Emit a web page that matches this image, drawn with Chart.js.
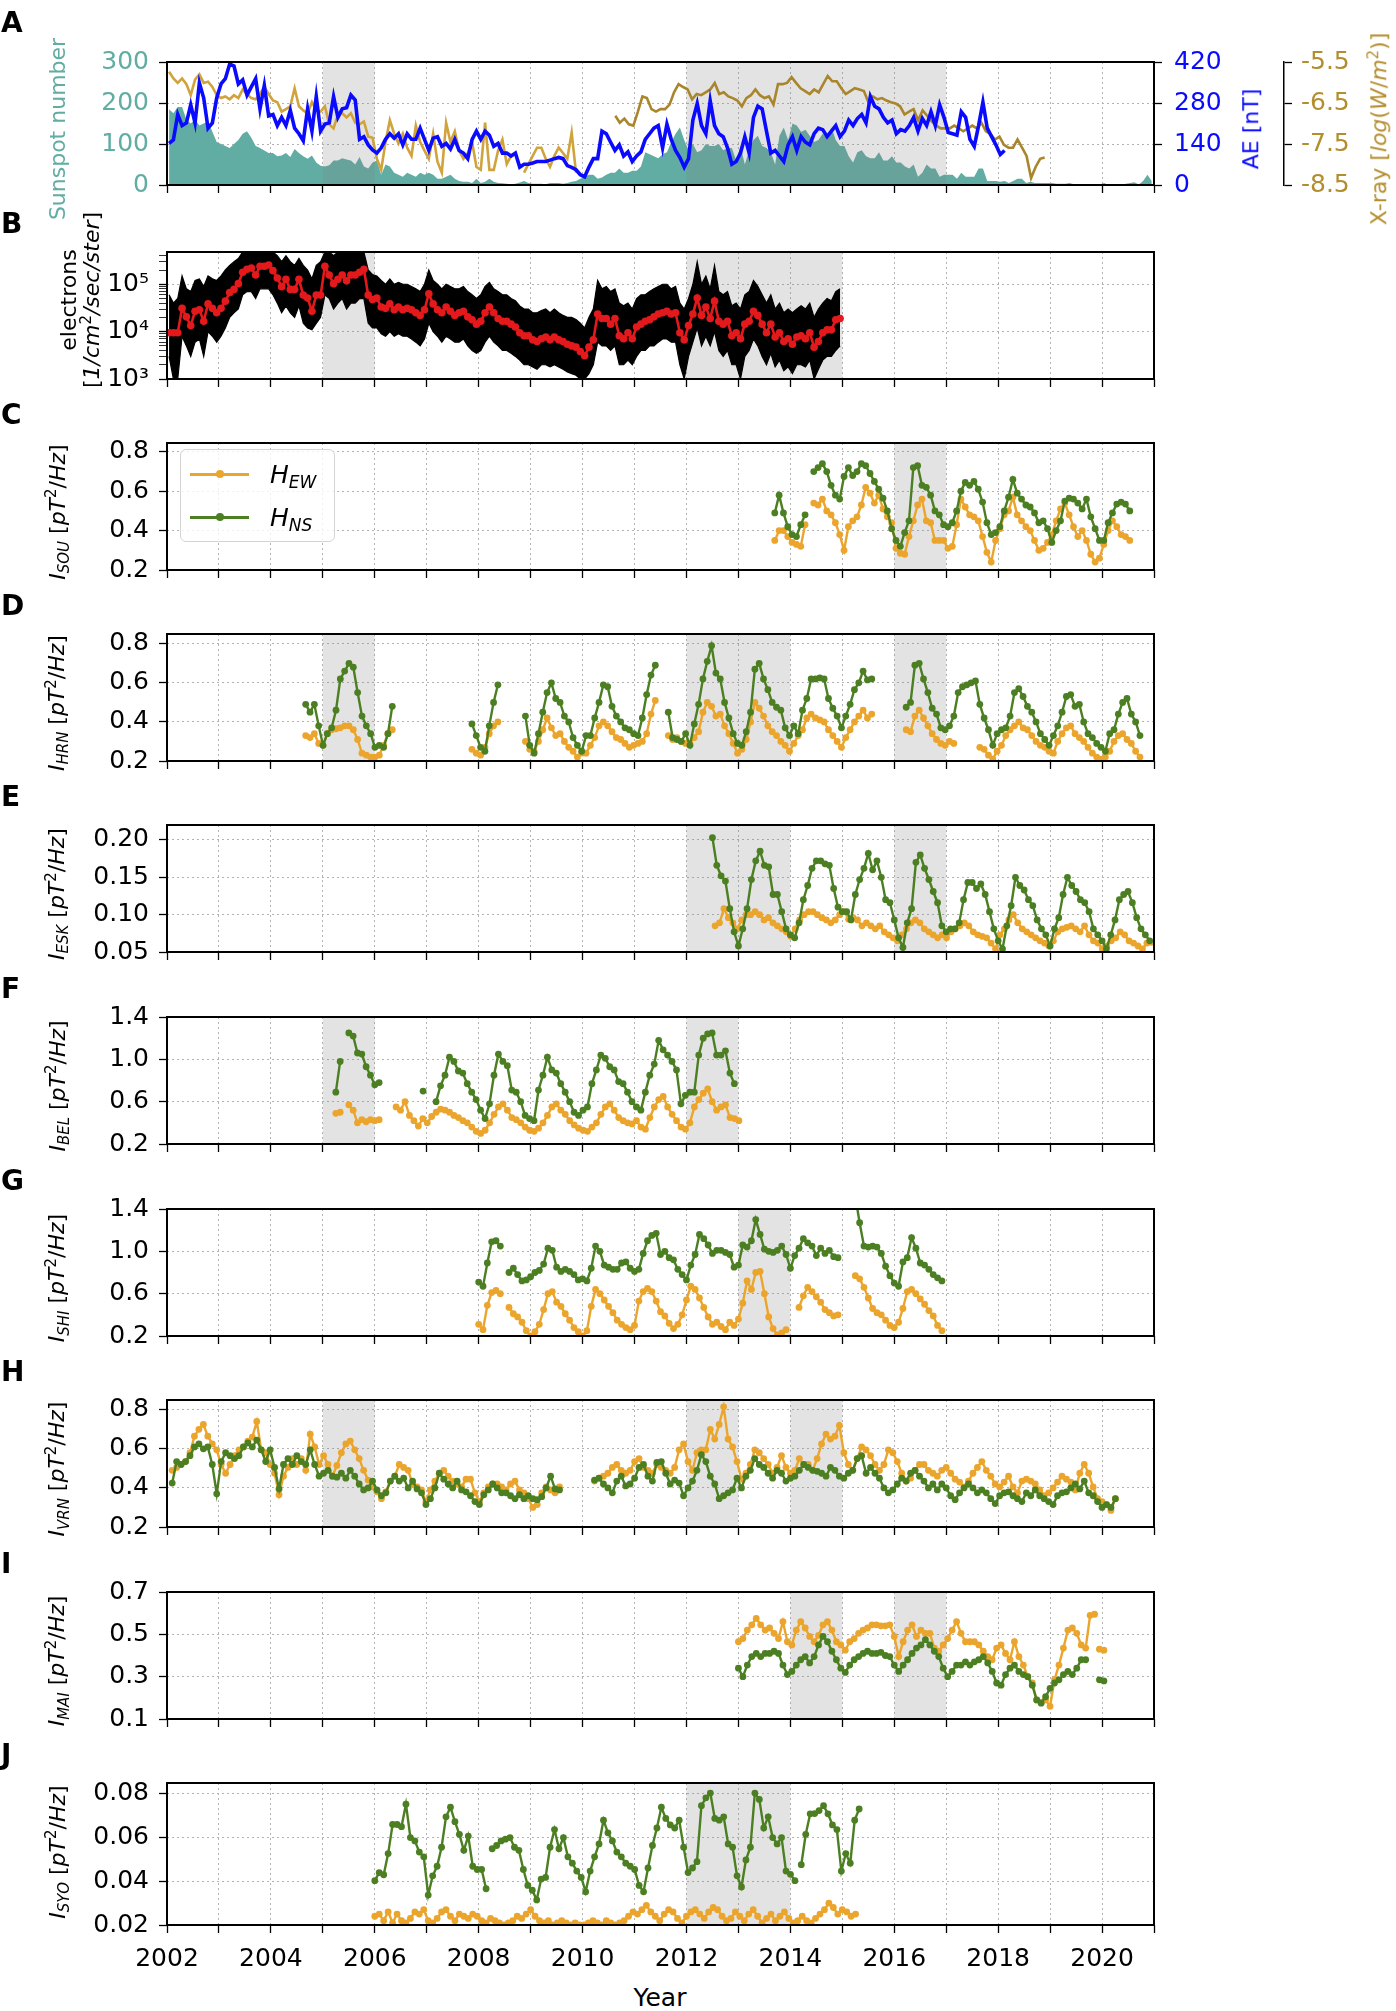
<!DOCTYPE html>
<html>
<head>
<meta charset="utf-8">
<title>Solar activity and ELF intensities</title>
<script src="https://cdn.jsdelivr.net/npm/chart.js@4.4.1/dist/chart.umd.min.js"></script>
<style>
  body { margin: 0; background: #fff; }
  #fig { position: relative; width: 1396px; height: 2011px; font-family: "DejaVu Sans", sans-serif; overflow: hidden; }
  #fig canvas { position: absolute; left: 0; }
  .t { position: absolute; white-space: nowrap; line-height: 1; text-align: center; font-size: 22px; }
  .r { transform: rotate(-90deg); }
  .ltr { position: absolute; left: 1px; font-weight: bold; font-size: 28px; line-height: 1; }
  sub, sup { font-size: 0.68em; line-height: 0; }
  sub { vertical-align: -0.3em; }
  sup { vertical-align: 0.55em; }
</style>
</head>
<body>
<div id="fig"></div>
<script>
// ---------- data ----------
const MONTH = 1 / 12;
const STEP = 0.0857;
const yearTicks = [2002,2003,2004,2005,2006,2007,2008,2009,2010,2011,2012,2013,2014,2015,2016,2017,2018,2019,2020,2021];

// A: sunspot number, monthly from Jan 2002
const sunspot = [
  185,175,190,190,160,150,160,145,150,155,130,105,
  100,95,90,100,110,125,131,115,95,90,84,78,
  78,70,72,78,68,88,78,70,64,72,55,47,
  45,48,60,60,65,62,60,50,68,45,40,55,
  60,25,50,45,30,25,20,30,25,20,30,25,
  30,25,15,15,20,25,15,10,8,8,5,15,
  5,8,15,8,5,4,3,2,3,6,10,5,
  3,3,3,2,5,5,5,3,5,8,10,15,
  20,25,25,15,18,25,30,30,40,30,30,35,
  35,45,80,75,70,65,75,80,105,125,140,110,
  85,100,80,85,100,95,95,100,85,90,90,60,
  95,50,85,110,120,95,90,80,50,120,140,110,
  150,145,130,135,120,105,110,125,115,140,110,95,
  95,70,55,80,85,70,65,65,80,60,60,70,
  55,55,45,40,50,20,30,50,40,40,20,25,
  25,25,15,30,20,20,20,40,40,10,10,10,
  8,10,5,10,15,15,5,8,5,5,5,5,
  5,3,3,3,5,2,1,1,1,1,1,1,
  5,0,1,2,0,3,5,7,1,10,25,10
];
// A: AE index [nT], monthly from Jan 2002
const aeIndex = [
  142,154,241,203,212,274,212,349,297,194,212,297,
  345,363,413,406,345,359,307,335,363,260,340,236,
  241,203,231,203,255,194,175,151,260,184,302,184,
  208,212,302,231,260,264,307,290,156,165,137,120,
  109,127,156,175,160,175,137,175,156,156,194,156,
  118,160,165,132,142,123,156,118,109,90,156,184,
  156,184,170,132,142,109,109,99,109,61,71,71,
  75,80,80,80,85,90,94,90,66,60,52,35,
  28,61,90,90,184,175,146,118,137,99,113,80,
  99,113,156,175,194,203,127,208,156,118,94,61,
  90,222,278,203,175,288,203,175,165,127,71,80,
  109,165,109,231,269,260,184,109,118,99,80,137,
  165,118,165,146,137,175,194,189,165,184,203,165,
  184,222,203,227,241,212,302,269,260,231,212,222,
  175,189,184,203,231,184,227,203,250,203,274,231,
  179,175,170,250,231,156,132,203,283,194,165,137,
  104,118
];
// A: X-ray flux log(W/m2), first instrument, monthly from Jan 2002
const xrayEarly = [
  -5.74,-5.90,-6.01,-5.90,-6.04,-6.31,-5.93,-5.80,-6.01,-5.98,-6.11,-6.31,
  -6.38,-6.34,-6.41,-6.31,-6.38,-6.17,-6.28,-6.38,-6.41,-6.28,-6.11,-6.28,
  -6.44,-6.48,-6.71,-6.65,-6.58,-6.14,-6.58,-6.68,-6.75,-6.48,-6.68,-6.71,
  -6.58,-7.02,-7.12,-6.78,-6.75,-6.85,-6.75,-6.98,-7.02,-6.95,-7.32,-7.35,
  -7.86,-8.13,-7.45,-6.92,-7.25,-7.49,-7.25,-7.59,-7.79,-7.05,-7.45,-7.66,
  -7.86,-7.25,-7.93,-8.20,-6.98,-7.45,-7.19,-7.66,-7.86,-7.72,-7.45,-8.06,
  -8.13,-6.98,-8.13,-8.13,-7.66,-7.39,-7.99,-7.79,null,null,-8.20,-7.99,
  -7.79,-7.59,-7.59,-7.86,-8.06,-7.79,-7.59,-7.72,-7.86,-7.22,-8.20
];
// A: X-ray flux, second instrument, from Aug 2010
const xrayLate = [
  -6.81,-6.98,-6.88,-7.02,-7.05,-6.71,-6.34,-6.38,-6.65,-6.71,-6.65,-6.65,-6.54,-6.24,-6.04,-6.11,-6.17,
  -6.41,-6.28,-6.31,-6.24,-6.17,-6.01,-6.28,-6.24,-6.34,-6.38,-6.44,-6.58,-6.38,-6.31,-6.17,-6.31,
  -6.38,-6.34,-6.54,-6.04,-6.04,-6.01,-5.87,-6.01,-6.14,-6.21,-6.28,-6.17,-6.24,-6.04,-5.84,-5.97,
  -5.97,-6.14,-6.28,-6.21,-6.14,-6.17,-6.21,-6.48,-6.34,-6.41,-6.38,-6.44,-6.48,-6.51,-6.58,-6.78,
  -6.71,-6.65,-6.92,-6.68,-6.81,-6.95,-7.05,-7.12,-7.12,-7.12,-7.05,-7.12,-7.19,-7.12,-7.05,-7.12,
  -6.98,-7.19,-7.25,-7.39,-7.32,-7.52,-7.59,-7.59,-7.39,-7.59,-7.79,-8.33,-8.06,-7.86,-7.83
];
const xrayLateStart = 2010.63;
const xrayLateStep = 0.087;

// B: >2 MeV electrons, monthly means from Jan 2002
const elecMean = [
  9.5e3,9.5e3,9.5e3,3.1e4,2.05e4,1.34e4,2.7e4,2.9e4,1.66e4,3.85e4,3.1e4,2.5e4,
  3.1e4,4.4e4,6.7e4,7.8e4,1.03e5,1.8e5,2.07e5,2.2e5,1.57e5,2.4e5,2.4e5,2.56e5,
  1.94e5,1.36e5,8.9e4,1.27e5,7.8e4,7.8e4,1.27e5,5.9e4,5.1e4,2.7e4,5.9e4,5.9e4,
  2.4e5,1.57e5,1.03e5,1.27e5,1.57e5,1.18e5,1.57e5,1.57e5,1.8e5,2.07e5,5.9e4,4.75e4,
  5.1e4,3.3e4,3.1e4,3.85e4,2.9e4,3.3e4,2.9e4,3.1e4,2.9e4,2.5e4,2.2e4,2.9e4,
  6.3e4,3.85e4,2.9e4,2.5e4,3.3e4,2.7e4,2.2e4,2.5e4,2.7e4,2.05e4,1.78e4,1.44e4,
  1.66e4,2.5e4,3.3e4,2.5e4,1.9e4,1.66e4,1.66e4,1.44e4,1.25e4,9.5e3,8.2e3,8.2e3,
  6.7e3,6.2e3,7.1e3,7.7e3,6.7e3,7.7e3,6.7e3,6.2e3,5.4e3,5.0e3,4.7e3,3.8e3,
  3.1e3,4.7e3,6.7e3,2.35e4,1.9e4,1.9e4,1.44e4,1.9e4,8.2e3,7.1e3,9.5e3,7.1e3,
  1.25e4,1.44e4,1.66e4,1.78e4,2.05e4,2.35e4,2.5e4,2.7e4,2.35e4,2.5e4,9.5e3,6.7e3,
  1.34e4,2.35e4,5.1e4,2.2e4,3.3e4,1.9e4,4.4e4,1.66e4,1.44e4,1.66e4,8.2e3,9.5e3,
  7.1e3,1.44e4,1.66e4,2.7e4,2.2e4,1.44e4,9.5e3,1.44e4,7.7e3,9.5e3,6.2e3,7.1e3,
  5.4e3,7.7e3,8.2e3,7.1e3,9.5e3,4.7e3,6.2e3,9.5e3,1.09e4,1.09e4,1.78e4,1.9e4
];
// B: upper and lower edge of the daily flux band, per month
const elecHigh = [
  6e4,4e4,5e4,1.5e5,8e4,7e4,1.2e5,1.3e5,9e4,1.5e5,1.3e5,1.2e5,
  1.5e5,2e5,2.5e5,3e5,3.5e5,4.8e5,4.8e5,4.8e5,4.5e5,4.8e5,4.8e5,4.8e5,
  4.8e5,4e5,3e5,4e5,3e5,2.5e5,3.5e5,2.5e5,2e5,1.3e5,2.5e5,3e5,
  4.8e5,4.8e5,4e5,4.8e5,4.8e5,4.8e5,4.8e5,4.8e5,4.8e5,4.8e5,2e5,1.6e5,
  1.5e5,1.2e5,1e5,1.3e5,1e5,1.1e5,1e5,1e5,9e4,8e4,7e4,1e5,
  2e5,1.2e5,1e5,8e4,1e5,9e4,8e4,8e4,9e4,7e4,6e4,5e4,
  6e4,9e4,1.1e5,8e4,7e4,6e4,6e4,5e4,4.5e4,3.5e4,3e4,3e4,
  2.5e4,2.5e4,2.8e4,3e4,2.5e4,3e4,2.5e4,2.2e4,2e4,2e4,1.8e4,1.5e4,
  1.2e4,2e4,3e4,1.2e5,8e4,9e4,7e4,8e4,4e4,3.5e4,4e4,3e4,
  5e4,6e4,6e4,7e4,8e4,9e4,1e5,1e5,8e4,9e4,4e4,3e4,
  5e4,1e5,3e5,1e5,1.5e5,8e4,2.5e5,7e4,6e4,7e4,3.5e4,4e4,
  3e4,6e4,7e4,1.2e5,9e4,6e4,4e4,6e4,3e4,4e4,2.5e4,3e4,
  2.5e4,3e4,3.5e4,3e4,4e4,2e4,3e4,4e4,5e4,4.5e4,7e4,8e4
];
const elecLow = [
  3e3,1e3,1e3,8e3,5e3,3e3,6e3,7e3,3e3,1e4,8e3,6e3,
  8e3,1.2e4,2e4,2.5e4,3e4,6e4,7e4,7e4,5e4,8e4,8e4,8e4,
  6e4,4e4,2.5e4,3.5e4,2.5e4,2e4,3.5e4,1.5e4,1.2e4,1.1e4,1.5e4,2e4,
  6e4,5e4,3e4,4e4,5e4,3e4,4e4,4e4,5e4,5e4,1.5e4,1.2e4,
  1.2e4,9e3,8e3,1e4,8e3,9e3,8e3,8e3,7e3,6e3,5e3,7e3,
  1.5e4,1e4,8e3,6e3,8e3,7e3,6e3,6e3,7e3,5e3,4e3,3.5e3,
  4e3,6e3,8e3,6e3,5e3,4e3,4e3,3.5e3,3e3,2.5e3,2e3,2e3,
  1.8e3,1.6e3,2e3,2e3,1.8e3,2e3,1.8e3,1.6e3,1.4e3,1.3e3,1.2e3,1e3,
  1e3,1.3e3,2e3,6e3,5e3,5e3,4e3,5e3,2e3,2e3,2.5e3,2e3,
  3e3,4e3,4e3,5e3,5e3,6e3,7e3,7e3,6e3,6e3,2e3,1e3,
  3e3,6e3,1.2e4,5e3,8e3,5e3,1e4,4e3,3e3,4e3,2e3,2e3,
  1e3,3e3,4e3,7e3,5e3,3e3,2e3,3.5e3,1.8e3,2.5e3,1.5e3,1.8e3,
  1.3e3,2e3,2e3,1.8e3,2.5e3,1e3,1.6e3,2.5e3,3e3,3e3,4e3,5e3
];
const elecTicks = [1e3,2e3,3e3,4e3,5e3,6e3,7e3,8e3,9e3,1e4,2e4,3e4,4e4,5e4,6e4,7e4,8e4,9e4,1e5,2e5,3e5,4e5];

// C: SOU, monthly from Sep 2013
const souNS = [0.49,0.58,0.49,0.42,0.38,0.37,0.43,0.48,null,
  0.70,0.72,0.74,0.70,0.63,0.58,0.56,0.675,0.72,0.68,0.70,0.74,0.73,0.69,0.65,0.61,0.565,0.50,0.41,0.35,
  0.32,0.39,0.45,0.72,0.73,0.63,0.62,0.58,0.50,0.48,0.43,0.42,0.44,0.50,0.60,0.645,0.63,0.65,0.61,0.545,
  0.44,0.38,0.39,0.42,0.50,0.57,0.66,0.59,0.56,0.53,0.52,0.49,0.44,0.45,0.41,0.34,0.40,0.45,0.55,0.565,
  0.56,0.54,0.51,0.56,0.47,0.41,0.35,0.35,0.44,0.49,0.535,0.545,0.535,0.50];
const souEW = [0.35,0.40,0.40,0.37,0.34,0.33,0.32,0.43,null,
  0.54,0.53,0.56,0.50,0.48,0.44,0.38,0.30,0.42,0.45,0.47,0.53,0.62,0.59,0.54,0.58,0.51,0.47,0.44,0.31,
  0.285,0.28,0.37,0.45,0.53,0.56,0.45,0.44,0.35,0.35,0.35,0.31,0.32,0.43,0.56,0.52,0.48,0.47,0.45,0.37,
  0.29,0.24,0.35,0.41,0.48,0.50,0.57,0.48,0.45,0.42,0.40,0.35,0.30,0.31,0.34,0.38,0.45,0.51,0.54,0.48,
  0.42,0.37,0.40,0.35,0.28,0.24,0.26,0.33,0.40,0.45,0.42,0.38,0.37,0.35];
const souStart = 2013.70;

// D: HRN, monthly segments
const hrnStarts = [2004.67, 2007.87, 2008.90, 2011.65, 2016.23];
const hrnNS1 = [0.49,0.45,0.49,0.38,0.28,0.34,0.37,0.46,0.62,0.66,0.70,0.68,0.55,0.43,0.38,0.34,0.27,0.28,0.27,0.34,0.48];
const hrnNS2 = [0.39,0.33,0.27,0.25,0.38,0.50,0.59];
const hrnNS3 = [0.43,0.28,0.24,0.34,0.45,0.55,0.60,0.52,0.50,0.43,0.40,0.32,0.28,0.25,0.33,0.33,0.42,0.50,0.59,0.58,0.48,0.43,0.40,0.37,0.36,0.34,0.33,0.42,0.54,0.64,0.69];
const hrnNS4 = [0.45,0.32,0.31,0.30,0.34,0.28,0.39,0.49,0.62,0.71,0.79,0.65,0.62,0.50,0.42,0.34,0.29,0.28,0.35,0.45,0.67,0.70,0.62,0.565,0.50,0.475,0.46,0.37,0.33,0.38,0.34,0.46,0.52,0.62,0.62,0.625,0.62,0.52,0.47,0.43,0.37,0.43,0.49,0.565,0.60,0.66,0.615,0.62];
const hrnNS5 = [0.475,0.50,0.69,0.70,0.62,0.55,0.47,0.44,0.37,0.36,0.38,0.43,0.55,0.58,0.59,0.60,0.61,0.49,0.42,0.36,0.28,0.34,0.36,0.37,0.43,0.55,0.57,0.53,0.48,0.45,0.40,0.34,0.31,0.28,0.33,0.38,0.45,0.53,0.54,0.48,0.49,0.40,0.34,0.32,0.29,0.27,0.25,0.34,0.36,0.44,0.50,0.52,0.44,0.40,0.33];
const hrnEW1 = [0.33,0.32,0.34,0.29,0.28,0.34,0.36,0.365,0.37,0.38,0.38,0.36,0.31,0.24,0.23,0.22,0.22,0.23,0.28,0.34,0.36];
const hrnEW2 = [0.26,0.24,0.23,0.27,0.34,0.38,0.40];
const hrnEW3 = [0.30,0.26,0.25,0.30,0.36,0.42,0.37,0.33,0.34,0.30,0.27,0.25,0.22,0.24,0.24,0.28,0.32,0.38,0.40,0.38,0.35,0.32,0.31,0.29,0.27,0.28,0.29,0.30,0.34,0.44,0.51];
const hrnEW4 = [0.33,0.31,0.32,0.30,0.29,0.29,0.32,0.35,0.45,0.50,0.48,0.43,0.44,0.38,0.34,0.29,0.24,0.26,0.31,0.40,0.50,0.47,0.43,0.38,0.35,0.33,0.30,0.28,0.25,0.29,0.33,0.36,0.42,0.44,0.42,0.41,0.40,0.36,0.33,0.30,0.27,0.32,0.36,0.40,0.43,0.46,0.42,0.44];
const hrnEW5 = [0.36,0.35,0.43,0.46,0.42,0.38,0.34,0.31,0.29,0.28,0.30,0.29,null,null,null,null,null,0.27,0.26,0.23,0.21,0.25,0.28,0.33,0.36,0.38,0.40,0.37,0.36,0.33,0.30,0.28,0.27,0.25,0.24,0.30,0.34,0.37,0.38,0.34,0.32,0.30,0.27,0.24,0.22,0.21,0.22,0.25,0.30,0.33,0.34,0.31,0.29,0.25,0.22];

// E: ESK
const eskNS = [0.203,0.166,0.152,0.145,0.108,0.077,0.058,0.081,0.108,0.147,0.172,0.185,0.166,0.164,0.127,0.127,0.104,0.081,0.073,0.069,
  0.089,0.12,0.139,0.162,0.172,0.172,0.168,0.166,0.135,0.11,0.104,0.104,0.093,0.127,0.147,0.162,0.182,0.16,0.172,0.15,
  0.12,0.116,0.093,0.069,0.056,0.089,0.108,0.17,0.18,0.162,0.147,0.131,0.116,0.085,0.077,0.081,0.081,0.089,0.12,0.143,
  0.143,0.135,0.141,0.127,0.104,0.081,0.065,0.054,0.085,0.112,0.15,0.139,0.133,0.12,0.112,0.093,0.081,0.073,0.058,0.081,
  0.096,0.127,0.15,0.139,0.131,0.12,0.116,0.104,0.081,0.073,0.065,0.054,0.073,0.093,0.12,0.127,0.131,0.116,0.096,0.081,0.073,0.065];
const eskEW = [0.085,0.089,0.108,0.096,0.089,0.081,0.093,0.10,0.10,0.104,0.10,0.093,0.096,0.089,0.085,0.081,0.077,0.071,0.081,0.093,
  0.10,0.104,0.104,0.10,0.096,0.093,0.089,0.093,0.10,0.104,0.094,0.096,0.093,0.085,0.089,0.085,0.081,0.085,0.077,0.073,
  0.069,0.065,0.073,0.081,0.089,0.093,0.089,0.081,0.077,0.073,0.069,0.073,0.069,0.077,0.081,0.085,0.089,0.085,0.077,0.073,
  0.071,0.069,0.062,0.054,0.073,0.081,0.093,0.10,0.089,0.081,0.077,0.073,0.069,0.065,0.062,0.058,0.065,0.077,0.081,0.083,
  0.085,0.081,0.077,0.085,0.073,0.065,0.062,0.054,0.058,0.065,0.069,0.077,0.073,0.065,0.062,0.058,0.054,0.062,0.063];
const eskStartNS = 2012.50, eskStartEW = 2012.55;

// F: BEL
const belNS1 = [0.69,0.98,null,1.25,1.22,1.06,1.05,0.93,0.85,0.76,0.78];       // monthly from 2005.25
const belNS2 = [0.70];                                                        // 2006.93
const belNS3 = [0.60,0.75,0.85,1.02,0.98,0.89,0.87,0.77,0.69,0.62,0.52,0.44,0.58,0.85,1.05,0.98,0.94,0.71,0.69,0.60,
  0.47,0.44,0.42,0.71,0.85,1.02,0.90,0.87,0.77,0.69,0.60,0.50,0.47,0.52,0.55,0.77,0.90,1.04,1.01,0.93,
  0.90,0.79,0.77,0.69,0.60,0.55,0.52,0.69,0.85,0.955,1.18,1.09,1.04,0.98,0.90,0.58,0.66,0.69,0.69,1.04,
  1.20,1.24,1.25,1.04,1.04,1.08,0.87,0.77];                                   // rotations from 2007.18
const belEW1 = [0.49,0.50,null,0.57,0.52,0.40,0.43,0.41,0.43,0.42,0.43];      // monthly from 2005.25
const belEW2 = [0.55,0.52,0.60,0.47,0.42,0.37,0.44,0.40,0.46,0.50,0.53,0.52,0.50,0.47,0.45,0.42,0.40,0.36,0.32,0.30,
  0.33,0.40,0.48,0.55,0.58,0.52,0.45,0.43,0.40,0.36,0.33,0.32,0.35,0.40,0.47,0.55,0.58,0.52,0.48,0.42,
  0.38,0.35,0.33,0.32,0.36,0.40,0.48,0.55,0.58,0.52,0.45,0.42,0.40,0.39,0.42,0.36,0.34,0.45,0.55,0.62,
  0.65,0.55,0.48,0.42,0.36,0.34,0.40,0.55,0.62,0.68,0.72,0.60,0.52,0.55,0.57,0.45,0.44,0.42]; // rotations from 2006.41

// G: SHI, monthly
const shiNS1 = [0.71,0.67,0.89,1.09,1.10,1.05,null,0.80,0.84,0.78,0.72,0.73,0.76,0.80,0.82,0.88,1.03,1.01,0.85,0.81,
  0.83,0.81,0.78,0.73,0.74,0.72,0.84,1.05,1.00,0.87,0.85,0.83,0.83,0.89,0.90,0.84,0.81,0.83,0.98,1.10,
  1.15,1.17,0.97,1.00,0.94,0.92,0.83,0.78,0.73,0.87,0.97,1.16,1.12,1.06,0.98,1.01,1.01,0.99,0.97,0.85,
  0.87,1.06,1.04,1.10,1.30,1.16,1.02,1.00,0.99,1.01,1.05,0.97,0.84,0.96,1.03,1.12,1.08,1.05,0.96,1.03,
  0.98,1.01,0.95,0.94];
const shiNS2 = [1.52,1.27,1.05,1.04,1.05,1.04,0.98,0.86,0.77,0.70,0.67,0.90,0.94,1.13,1.03,0.89,0.87,0.83,0.78,0.75,0.72];
const shiEW1 = [0.31,0.26,0.49,0.61,0.63,0.60,null,0.47,0.41,0.38,0.33,0.25,0.20,0.24,0.31,0.45,0.60,0.62,0.52,0.48,
  0.41,0.35,0.28,0.24,0.20,0.25,0.48,0.64,0.60,0.54,0.48,0.42,0.35,0.31,0.28,0.26,0.30,0.53,0.62,0.65,
  0.62,0.53,0.43,0.39,0.32,0.27,0.31,0.40,0.54,0.67,0.64,0.56,0.47,0.38,0.31,0.33,0.29,0.26,0.33,0.30,
  0.36,0.51,0.72,0.64,0.80,0.81,0.60,0.38,0.27,0.21,0.23,0.26,null,null,0.47,0.58,0.66,0.62,0.57,0.52,
  0.45,0.42,0.39,0.40];
const shiEW2 = [0.77,0.74,0.66,0.56,0.46,0.42,0.40,0.35,0.30,0.28,0.33,0.46,0.62,0.64,0.60,0.55,0.50,0.44,0.39,0.30,0.25];
const shiStarts = [2008.0, 2015.25];

// H: VRN, rotation series
const vrnNS1 = [0.425,0.535,0.52,0.535,0.565,0.61,0.625,0.60,0.61,0.52,0.37,0.535,0.58,0.565,0.55,0.565,0.61,0.63,0.61,0.645,
  0.595,0.535,0.595,0.505,0.395,0.52,0.55,0.52,0.565,0.535,0.52,0.595,0.52,0.46,0.475,0.49,0.46,0.455,0.475,0.45,
  0.49,0.46,0.42,0.39,0.40,0.435,0.39,0.36,0.375,0.435,0.46,0.435,0.45,0.40,0.435,0.395,0.375,0.315,0.345,0.40,
  0.475,0.445,0.42,0.40,0.435,0.39,0.38,0.36,0.33,0.315,0.365,0.39,0.42,0.40,0.375,0.375,0.36,0.345,0.365,0.345,
  0.36,0.345,0.34,0.355,0.40,0.46,0.395,0.39];
const vrnEW1 = [0.49,0.505,0.52,0.535,0.58,0.665,0.70,0.725,0.665,0.625,0.595,0.52,0.475,0.52,0.565,0.595,0.61,0.64,0.66,0.74,
  0.595,0.58,0.52,0.475,0.365,0.46,0.505,0.55,0.52,0.55,0.49,0.675,0.61,0.52,0.565,0.52,0.46,0.515,0.58,0.625,
  0.64,0.595,0.55,0.49,0.44,0.405,0.38,0.345,0.38,0.435,0.46,0.52,0.505,0.49,0.42,0.405,0.39,0.33,0.39,0.435,
  0.475,0.49,0.46,0.435,0.42,0.405,0.445,0.445,0.375,0.33,0.375,0.405,0.42,0.42,0.405,0.39,0.42,0.435,0.39,0.375,
  0.345,0.30,0.315,0.375,0.405,0.39,0.375,0.405];
const vrnNS2 = [0.44,0.45,0.42,0.40,0.375,0.435,0.46,0.41,0.42,0.45,0.505,0.52,0.46,0.435,0.53,0.535,0.475,0.42,0.44,0.425,
  0.36,0.40,0.435,0.49,0.57,0.535,0.46,0.42,0.345,0.36,0.375,0.39,0.45,0.40,0.46,0.49,0.55,0.52,0.505,0.475,
  0.45,0.49,0.475,0.435,0.45,0.46,0.49,0.52,0.505,0.49,0.485,0.475,0.46,0.505,0.49,0.46,0.45,0.475,0.49,0.55,
  0.565,0.475,0.505,0.475,0.45,0.40,0.375,0.39,0.42,0.45,0.435,0.475,0.49,0.46,0.435,0.40,0.42,0.39,0.42,0.40,
  0.36,0.34,0.375,0.40,0.42,0.40,0.375,0.39,0.375,0.345,0.32,0.36,0.375,0.38,0.36,0.345,0.33,0.375,0.36,0.39,
  0.36,0.345,0.33,0.315,0.36,0.375,0.38,0.40,0.42,0.395,0.435,0.375,0.36,0.33,0.30,0.315,0.30,0.345];
const vrnEW2 = [0.435,0.45,0.46,0.475,0.505,0.52,0.49,0.475,0.49,0.535,0.55,0.505,0.49,0.475,0.52,0.505,0.49,0.475,0.505,0.595,
  0.625,0.535,0.49,0.58,0.595,0.595,0.70,0.65,0.725,0.815,0.65,0.61,0.535,0.445,0.475,0.52,0.595,0.58,0.55,0.52,
  0.475,0.505,0.565,0.505,0.475,0.49,0.55,0.52,0.52,0.49,0.55,0.625,0.675,0.65,0.665,0.72,0.58,0.52,0.49,0.55,
  0.61,0.595,0.565,0.52,0.49,0.52,0.595,0.58,0.535,0.475,0.435,0.45,0.49,0.52,0.52,0.49,0.475,0.46,0.49,0.505,
  0.475,0.445,0.43,0.405,0.435,0.475,0.505,0.535,0.49,0.46,0.42,0.405,0.43,0.46,0.405,0.375,0.435,0.445,0.435,0.42,
  0.39,0.36,0.375,0.40,0.43,0.46,0.445,0.43,0.39,0.475,0.52,0.475,0.405,0.345,0.33,0.315,0.285,0.345];
const vrnStarts = [2002.10, 2010.23];

// I: MAI, rotation series from 2013.0, plus a short piece at 2019.95
const maiEW1 = [0.465,0.48,0.52,0.545,0.575,0.545,0.52,0.53,0.505,0.48,0.56,0.465,0.45,0.52,0.56,0.53,0.49,0.465,0.495,0.545,
  0.56,0.52,0.465,0.45,0.425,0.465,0.48,0.505,0.52,0.53,0.545,0.545,0.54,0.54,0.545,0.49,0.395,0.465,0.52,0.545,
  0.49,0.52,0.505,0.505,0.435,0.42,0.45,0.48,0.52,0.56,0.505,0.465,0.465,0.465,0.45,0.42,0.395,0.38,0.435,0.45,
  0.41,0.38,0.465,0.395,0.355,0.30,0.27,0.19,0.18,0.19,0.16,0.285,0.355,0.435,0.52,0.53,0.505,0.45,0.435,0.59,0.595];
const maiNS1 = [0.34,0.30,0.355,0.395,0.41,0.395,0.41,0.41,0.42,0.41,0.355,0.31,0.325,0.355,0.38,0.395,0.365,0.395,0.45,0.49,
  0.465,0.42,0.38,0.34,0.32,0.355,0.38,0.395,0.41,0.42,0.41,0.41,0.415,0.40,0.395,0.355,0.325,0.355,0.38,0.41,
  0.435,0.45,0.475,0.45,0.42,0.395,0.34,0.30,0.325,0.355,0.355,0.37,0.355,0.37,0.38,0.395,0.365,0.325,0.27,0.26,
  0.31,0.34,0.355,0.325,0.31,0.30,0.26,0.19,0.175,0.205,0.245,0.27,0.285,0.31,0.325,0.31,0.34,0.38,0.38];
const maiEW2 = [0.43,0.425];
const maiNS2 = [0.285,0.28];
const maiStarts = [2013.0, 2019.95];

// J: SYO, rotation series from 2006.0
const syoNS1 = [0.0403,0.044,0.043,0.0527,0.066,0.066,0.065,0.0753,0.06,0.0585,0.0534,0.0512,0.0337,0.0425,0.0469,0.0556,0.0695,0.0739,0.0673,0.0615,
  0.0542,0.0607,0.0469,0.0454,0.0454,0.0366];
const syoNS2 = [0.0549,0.0564,0.0585,0.0593,0.06,0.0556,0.0542,0.0454,0.0381,0.0359,0.0315,0.041,0.0418,0.0556,0.0637,0.0549,0.06,0.0512,0.0483,0.0447,
  0.0418,0.0352,0.0447,0.0512,0.0571,0.068,0.0622,0.0585,0.0534,0.0512,0.0483,0.0469,0.0454,0.0381,0.0352,0.0461,0.0564,0.0644,0.0739,0.0688,
  0.0658,0.0644,0.068,0.0556,0.044,0.0461,0.049,0.0746,0.0782,0.0804,0.0688,0.068,0.0695,0.0571,0.0556,0.0425,0.0374,0.0498,0.0556,0.0804,
  0.0775,0.0644,0.0695,0.06,0.0571,0.06,0.0447,0.0432,0.0403];
const syoNS3 = [0.0476,0.0615,0.0709,0.071,0.0724,0.0746,0.0709,0.0658,0.0637,0.0447,0.0527,0.0483,0.068,0.0731];
const syoEW = [0.024,0.025,0.022,0.026,0.021,0.025,0.022,0.021,0.023,0.026,0.025,0.027,0.022,0.021,0.023,0.026,0.027,0.024,0.022,0.025,
  0.024,0.023,0.025,0.024,0.022,0.021,0.023,0.022,0.021,0.020,0.021,0.022,0.024,0.023,0.025,0.027,0.024,0.022,0.021,0.022,
  0.020,0.021,0.022,0.021,0.020,0.021,0.020,0.020,0.021,0.022,0.021,0.020,0.022,0.021,0.020,0.021,0.022,0.024,0.026,0.025,
  0.027,0.029,0.026,0.024,0.022,0.025,0.027,0.026,0.023,0.021,0.024,0.026,0.027,0.025,0.023,0.026,0.028,0.027,0.024,0.022,
  0.023,0.026,0.024,0.022,0.025,0.027,0.024,0.021,0.023,0.025,0.022,0.024,0.026,0.023,0.021,0.022,0.024,0.022,0.021,0.023,
  0.025,0.027,0.030,0.028,0.025,0.027,0.026,0.024,0.025];
const syoStarts = [2006.0, 2008.26, 2014.21];

// grey bands (years)
const spans = {
  A: [[2005, 2006], [2012, 2017]], B: [[2005, 2006], [2012, 2015]], C: [[2016, 2017]],
  D: [[2005, 2006], [2012, 2014], [2016, 2017]], E: [[2012, 2014], [2016, 2017]],
  F: [[2005, 2006], [2012, 2013]], G: [[2013, 2014]],
  H: [[2005, 2006], [2012, 2013], [2014, 2015]], I: [[2014, 2015], [2016, 2017]], J: [[2012, 2014]]
};

// ---------- drawing ----------
const ORANGE = '#eba52c', GREEN = '#4b7f22', TEAL = '#62ada3', BLUE = '#0a0aff', GOLD = '#b38e2e';
const X0 = 167, X1 = 1154, PH = 147, PAD = 20;
const TICK_FONT = { size: 25 };
const tops = { A: 55, B: 247, C: 438, D: 629, E: 820, F: 1012, G: 1204, H: 1395, I: 1587, J: 1778 };
const fig = document.getElementById('fig');
Chart.defaults.font.family = "'DejaVu Sans', sans-serif";
Chart.defaults.color = '#000';

function pts(start, step, vals) { return vals.map((v, i) => ({ x: start + i * step, y: v })); }
function segs(...parts) {
  const out = [];
  parts.forEach((p, k) => { if (k) out.push({ x: p[0].x - 0.01, y: null }); out.push(...p); });
  return out;
}
function line(data, color, extra) {
  return Object.assign({ data, borderColor: color, backgroundColor: color, borderWidth: 2.4,
    pointRadius: 3.4, pointBorderWidth: 0, pointBackgroundColor: color, pointHoverRadius: 3.4,
    tension: 0, spanGaps: false, fill: false }, extra || {});
}
const gridOpts = extra => Object.assign({ color: '#b3b3b3', lineWidth: 1, tickLength: 8,
  tickColor: '#000', tickWidth: 1.3, tickBorderDash: [] }, extra || {});

const deco = {
  id: 'deco',
  shade(chart, list) {
    const { ctx, chartArea: a, scales: { x } } = chart;
    ctx.save();
    ctx.fillStyle = 'rgba(128,128,128,0.22)';
    list.forEach(([s, e]) => {
      const p0 = x.getPixelForValue(s), p1 = x.getPixelForValue(e);
      ctx.fillRect(p0, a.top, p1 - p0, a.bottom - a.top);
    });
    ctx.restore();
  },
  beforeDatasetsDraw(chart, args, o) { if (o.afterIndex === undefined) this.shade(chart, o.spans); },
  afterDatasetDraw(chart, args, o) { if (o.afterIndex === args.index) this.shade(chart, o.spans); },
  afterDraw(chart) {
    const { ctx, chartArea: a } = chart;
    ctx.save();
    ctx.strokeStyle = '#000';
    ctx.lineWidth = 2;
    ctx.strokeRect(a.left, a.top, a.right - a.left, a.bottom - a.top);
    ctx.restore();
  }
};

function xScale(withLabels) {
  const xh = withLabels ? 52 : 10;
  return {
    type: 'linear', min: 2002, max: 2021,
    afterBuildTicks: s => { s.ticks = yearTicks.map(v => ({ value: v })); },
    afterFit: s => { s.height = xh; },
    grid: gridOpts(),
    border: { display: false, dash: [2, 3] },
    ticks: { display: withLabels, autoSkip: false, maxRotation: 0, padding: 11, font: TICK_FONT,
      callback: v => (v % 2 === 0 ? String(v) : '') }
  };
}
function yScale(min, max, ticks, fmt, extra) {
  return Object.assign({
    type: 'linear', position: 'left', min, max,
    afterFit: s => { s.width = X0; },
    afterBuildTicks: s => { s.ticks = ticks.map(v => ({ value: v })); },
    grid: gridOpts(),
    border: { display: false, dash: [2, 3] },
    ticks: { padding: 10, font: TICK_FONT, callback: fmt }
  }, extra || {});
}

function panel(key, datasets, scales, opts) {
  opts = opts || {};
  const xh = opts.xLabels ? 52 : 10;
  const cv = document.createElement('canvas');
  cv.width = 1396;
  cv.height = PAD + PH + xh;
  cv.style.top = (tops[key] - PAD) + 'px';
  fig.appendChild(cv);
  new Chart(cv, {
    type: 'line',
    data: { datasets },
    options: {
      responsive: false, animation: false, events: [],
      layout: { autoPadding: false, padding: { top: PAD, right: opts.padRight === undefined ? 1396 - X1 : opts.padRight, left: 0, bottom: 0 } },
      plugins: { legend: { display: false }, tooltip: { enabled: false },
        deco: { spans: spans[key], afterIndex: opts.afterIndex } },
      scales
    },
    plugins: [deco]
  });
}

// A
panel('A', [
  line(pts(2002.04, MONTH, aeIndex), BLUE, { yAxisID: 'yAE', borderWidth: 3.6, pointRadius: 0 }),
  line(pts(xrayLateStart, xrayLateStep, xrayLate), '#a9862b', { yAxisID: 'yX', borderWidth: 2.6, pointRadius: 0 }),
  line(pts(2002.04, MONTH, xrayEarly), '#d0a33c', { yAxisID: 'yX', borderWidth: 2.6, pointRadius: 0 }),
  line(pts(2002.04, MONTH, sunspot), TEAL, { yAxisID: 'y', borderWidth: 0, pointRadius: 0, fill: 'origin', backgroundColor: TEAL })
], {
  x: xScale(false),
  y: yScale(0, 300, [0, 100, 200, 300], v => String(v), { ticks: { padding: 10, color: TEAL, font: TICK_FONT } }),
  yAE: {
    type: 'linear', position: 'right', min: 0, max: 420, weight: 0,
    afterFit: s => { s.width = 130; },
    afterBuildTicks: s => { s.ticks = [0, 140, 280, 420].map(v => ({ value: v })); },
    grid: gridOpts({ drawOnChartArea: false }), border: { display: false },
    ticks: { padding: 12, color: BLUE, font: TICK_FONT }
  },
  yX: {
    type: 'linear', position: 'right', min: -8.5, max: -5.5, weight: 1,
    afterFit: s => { s.width = 112; },
    afterBuildTicks: s => { s.ticks = [-8.5, -7.5, -6.5, -5.5].map(v => ({ value: v })); },
    grid: gridOpts({ drawOnChartArea: false }), border: { display: true, color: '#000', width: 1.5 },
    ticks: { padding: 9, color: GOLD, font: TICK_FONT, callback: v => v.toFixed(1) }
  }
}, { padRight: 0, afterIndex: 3 });

// B
const majorB = [1e3, 1e4, 1e5];
panel('B', [
  line(pts(2002.04, MONTH, elecMean), '#e3191c', { pointRadius: 3.8, borderWidth: 2.6 }),
  line(pts(2002.04, MONTH, elecHigh), '#000', { pointRadius: 0, borderWidth: 1.2, fill: '+1', backgroundColor: '#000' }),
  line(pts(2002.04, MONTH, elecLow), '#000', { pointRadius: 0, borderWidth: 1.2 })
], {
  x: xScale(false),
  y: {
    type: 'logarithmic', position: 'left', min: 1e3, max: 4.8e5,
    afterFit: s => { s.width = X0; },
    afterBuildTicks: s => { s.ticks = elecTicks.map(v => ({ value: v })); },
    grid: gridOpts({
      color: c => (c.tick && (c.tick.value === 1e4 || c.tick.value === 1e5)) ? '#b3b3b3' : 'rgba(0,0,0,0)',
      tickWidth: c => (c.tick && majorB.includes(c.tick.value)) ? 1.3 : 0.8
    }),
    border: { display: false, dash: [2, 3] },
    ticks: { padding: 10, font: TICK_FONT, autoSkip: false,
      callback: v => ({ 1000: '10³', 10000: '10⁴', 100000: '10⁵' })[v] || '' }
  }
});

function station(key, ns, ew, min, max, ticks, dec, xLabels) {
  panel(key, [line(ns, GREEN), line(ew, ORANGE)], {
    x: xScale(!!xLabels),
    y: yScale(min, max, ticks, v => Number(v).toFixed(dec))
  }, { xLabels });
}

station('C', pts(souStart, MONTH, souNS), pts(souStart, MONTH, souEW), 0.2, 0.845, [0.2, 0.4, 0.6, 0.8], 1);
station('D',
  segs(pts(hrnStarts[0], MONTH, hrnNS1), pts(hrnStarts[1], MONTH, hrnNS2), pts(hrnStarts[2], MONTH, hrnNS3), pts(hrnStarts[3], MONTH, hrnNS4), pts(hrnStarts[4], MONTH, hrnNS5)),
  segs(pts(hrnStarts[0], MONTH, hrnEW1), pts(hrnStarts[1], MONTH, hrnEW2), pts(hrnStarts[2], MONTH, hrnEW3), pts(hrnStarts[3], MONTH, hrnEW4), pts(hrnStarts[4], MONTH, hrnEW5)),
  0.2, 0.85, [0.2, 0.4, 0.6, 0.8], 1);
station('E', pts(eskStartNS, MONTH, eskNS), pts(eskStartEW, STEP, eskEW), 0.05, 0.22, [0.05, 0.10, 0.15, 0.20], 2);
station('F',
  segs(pts(2005.25, MONTH, belNS1), pts(2006.93, MONTH, belNS2), pts(2007.18, STEP, belNS3)),
  segs(pts(2005.25, MONTH, belEW1), pts(2006.41, STEP, belEW2)),
  0.2, 1.4, [0.2, 0.6, 1.0, 1.4], 1);
station('G',
  segs(pts(shiStarts[0], MONTH, shiNS1), pts(shiStarts[1], MONTH, shiNS2)),
  segs(pts(shiStarts[0], MONTH, shiEW1), pts(shiStarts[1], MONTH, shiEW2)),
  0.2, 1.4, [0.2, 0.6, 1.0, 1.4], 1);
station('H',
  segs(pts(vrnStarts[0], STEP, vrnNS1), pts(vrnStarts[1], STEP, vrnNS2)),
  segs(pts(vrnStarts[0], STEP, vrnEW1), pts(vrnStarts[1], STEP, vrnEW2)),
  0.2, 0.85, [0.2, 0.4, 0.6, 0.8], 1);
station('I',
  segs(pts(maiStarts[0], STEP, maiNS1), pts(maiStarts[1], STEP, maiNS2)),
  segs(pts(maiStarts[0], STEP, maiEW1), pts(maiStarts[1], STEP, maiEW2)),
  0.1, 0.7, [0.1, 0.3, 0.5, 0.7], 1);
station('J',
  segs(pts(syoStarts[0], STEP, syoNS1), pts(syoStarts[1], STEP, syoNS2), pts(syoStarts[2], STEP, syoNS3)),
  pts(syoStarts[0], STEP, syoEW),
  0.02, 0.085, [0.02, 0.04, 0.06, 0.08], 2, true);

// ---------- text overlays ----------
function text(html, cx, cy, css, rot) {
  const d = document.createElement('div');
  d.className = 't' + (rot ? ' r' : '');
  d.innerHTML = html;
  Object.assign(d.style, css || {});
  fig.appendChild(d);
  d.style.left = (cx - d.offsetWidth / 2) + 'px';
  d.style.top = (cy - d.offsetHeight / 2) + 'px';
  return d;
}
Object.keys(tops).forEach(k => {
  const d = document.createElement('div');
  d.className = 'ltr';
  d.textContent = k;
  fig.appendChild(d);
  d.style.top = ((k === 'A' ? 23 : tops[k] - 23) - d.offsetHeight / 2) + 'px';
});
const mid = k => tops[k] + PH / 2;
text('Sunspot number', 58, mid('A'), { color: TEAL }, true);
text('AE [nT]', 1251, mid('A'), { color: BLUE }, true);
text('X-ray [<i>log</i>(<i>W</i>/<i>m</i><sup>2</sup>)]', 1379, mid('A'), { color: GOLD }, true);
text('electrons', 68, 300, {}, true);
text('[<i>1/cm</i><sup>2</sup><i>/sec/ster</i>]', 92, 300, {}, true);
const stationNames = { C: 'SOU', D: 'HRN', E: 'ESK', F: 'BEL', G: 'SHI', H: 'VRN', I: 'MAI', J: 'SYO' };
Object.keys(stationNames).forEach(k => {
  text('<i>I</i><sub><i>' + stationNames[k] + '</i></sub> [<i>pT</i><sup>2</sup>/<i>Hz</i>]', 57, mid(k), {}, true);
});
text('Year', 660, 1997, { fontSize: '25px' });

// legend in panel C
const leg = document.createElement('div');
Object.assign(leg.style, { position: 'absolute', left: '180px', top: '449px', width: '153px', height: '91px',
  border: '1.5px solid #d4d4d4', borderRadius: '6px', background: 'rgba(255,255,255,0.8)' });
fig.appendChild(leg);
[[ORANGE, 'EW', 474], [GREEN, 'NS', 517]].forEach(([c, lab, y]) => {
  const l = document.createElement('div');
  Object.assign(l.style, { position: 'absolute', left: '190px', top: (y - 1.5) + 'px', width: '59px', height: '3px', background: c });
  fig.appendChild(l);
  const dot = document.createElement('div');
  Object.assign(dot.style, { position: 'absolute', left: (219.5 - 4) + 'px', top: (y - 4) + 'px', width: '8px', height: '8px', borderRadius: '50%', background: c });
  fig.appendChild(dot);
  const t = text('<i>H</i><sub><i>' + lab + '</i></sub>', 0, y, { fontSize: '25px', textAlign: 'left' });
  t.style.left = '270px';
});
</script>
</body>
</html>
